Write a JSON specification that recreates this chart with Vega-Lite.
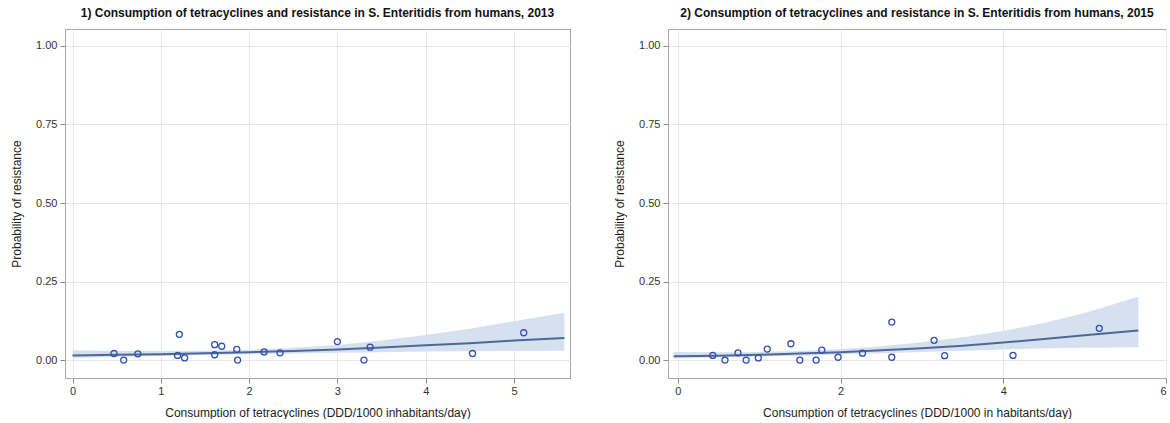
{
  "$schema": "https://vega.github.io/schema/vega-lite/v6.json",
  "padding": {"left": 10, "top": 6, "right": 0, "bottom": 0},
  "spacing": 98,
  "bounds": "flush",
  "config": {
    "font": "Liberation Sans",
    "view": {"stroke": "#a8a8a8", "strokeWidth": 1},
    "axis": {
      "domain": false,
      "grid": true,
      "gridColor": "#e6e6e6",
      "tickColor": "#8a8a8a",
      "tickSize": 5,
      "labelFontSize": 11,
      "labelColor": "#333333",
      "labelPadding": 3,
      "titleFontSize": 12,
      "titleFontWeight": "normal",
      "titleColor": "#222222"
    },
    "title": {"fontSize": 12, "fontWeight": "bold", "color": "#111111", "anchor": "middle", "offset": 9}
  },
  "datasets": {
    "pts1": [
      {"x": 0.47, "y": 0.021}, {"x": 0.58, "y": 0.0}, {"x": 0.74, "y": 0.02},
      {"x": 1.21, "y": 0.082}, {"x": 1.19, "y": 0.015}, {"x": 1.27, "y": 0.007},
      {"x": 1.61, "y": 0.049}, {"x": 1.69, "y": 0.044}, {"x": 1.61, "y": 0.017},
      {"x": 1.86, "y": 0.034}, {"x": 1.87, "y": 0.0}, {"x": 2.17, "y": 0.026},
      {"x": 2.35, "y": 0.023}, {"x": 3.0, "y": 0.059}, {"x": 3.3, "y": 0.0},
      {"x": 3.37, "y": 0.041}, {"x": 4.53, "y": 0.021}, {"x": 5.11, "y": 0.087}
    ],
    "pts2": [
      {"x": 0.43, "y": 0.015}, {"x": 0.58, "y": 0.0}, {"x": 0.74, "y": 0.023},
      {"x": 0.84, "y": 0.0}, {"x": 0.99, "y": 0.007}, {"x": 1.1, "y": 0.035},
      {"x": 1.39, "y": 0.052}, {"x": 1.5, "y": 0.0}, {"x": 1.7, "y": 0.0},
      {"x": 1.77, "y": 0.032}, {"x": 1.97, "y": 0.009}, {"x": 2.27, "y": 0.022},
      {"x": 2.63, "y": 0.121}, {"x": 2.63, "y": 0.009}, {"x": 3.15, "y": 0.063},
      {"x": 3.28, "y": 0.014}, {"x": 4.12, "y": 0.015}, {"x": 5.18, "y": 0.101}
    ],
    "fit1": [
      {"x": 0.0, "p": 0.015, "lo": 0.007, "hi": 0.031},
      {"x": 0.5, "p": 0.017, "lo": 0.010, "hi": 0.029},
      {"x": 1.0, "p": 0.019, "lo": 0.013, "hi": 0.029},
      {"x": 1.5, "p": 0.022, "lo": 0.016, "hi": 0.030},
      {"x": 2.0, "p": 0.025, "lo": 0.019, "hi": 0.033},
      {"x": 2.5, "p": 0.029, "lo": 0.021, "hi": 0.039},
      {"x": 3.0, "p": 0.034, "lo": 0.023, "hi": 0.048},
      {"x": 3.5, "p": 0.040, "lo": 0.025, "hi": 0.062},
      {"x": 4.0, "p": 0.047, "lo": 0.027, "hi": 0.080},
      {"x": 4.5, "p": 0.054, "lo": 0.028, "hi": 0.100},
      {"x": 5.0, "p": 0.062, "lo": 0.029, "hi": 0.124},
      {"x": 5.57, "p": 0.070, "lo": 0.030, "hi": 0.151}
    ],
    "fit2": [
      {"x": -0.05, "p": 0.012, "lo": 0.005, "hi": 0.026},
      {"x": 0.5, "p": 0.014, "lo": 0.008, "hi": 0.025},
      {"x": 1.0, "p": 0.017, "lo": 0.011, "hi": 0.026},
      {"x": 1.5, "p": 0.021, "lo": 0.014, "hi": 0.029},
      {"x": 2.0, "p": 0.025, "lo": 0.018, "hi": 0.035},
      {"x": 2.5, "p": 0.031, "lo": 0.022, "hi": 0.044},
      {"x": 3.0, "p": 0.038, "lo": 0.026, "hi": 0.057},
      {"x": 3.5, "p": 0.046, "lo": 0.030, "hi": 0.073},
      {"x": 4.0, "p": 0.056, "lo": 0.034, "hi": 0.093},
      {"x": 4.5, "p": 0.067, "lo": 0.037, "hi": 0.118},
      {"x": 5.0, "p": 0.079, "lo": 0.039, "hi": 0.150},
      {"x": 5.66, "p": 0.094, "lo": 0.041, "hi": 0.202}
    ]
  },
  "hconcat": [
    {
      "width": 505,
      "height": 349,
      "title": "1) Consumption of tetracyclines and resistance in S. Enteritidis from humans, 2013",
      "layer": [
        {
          "data": {"name": "fit1"},
          "mark": {"type": "area", "color": "#d6e1f0", "opacity": 1},
          "encoding": {
            "x": {"field": "x", "type": "quantitative", "scale": {"domain": [-0.085, 5.634], "nice": false, "zero": false},
                  "axis": {"values": [0, 1, 2, 3, 4, 5], "format": "d", "labelPadding": 2, "title": "Consumption of tetracyclines (DDD/1000 inhabitants/day)", "titlePadding": 11}},
            "y": {"field": "lo", "type": "quantitative", "scale": {"domain": [-0.057, 1.054], "nice": false, "zero": false},
                  "axis": {"values": [0, 0.25, 0.5, 0.75, 1], "format": ".2f", "title": "Probability of resistance", "titlePadding": 12}},
            "y2": {"field": "hi"}
          }
        },
        {
          "data": {"name": "fit1"},
          "mark": {"type": "line", "color": "#4d6898", "strokeWidth": 2},
          "encoding": {
            "x": {"field": "x", "type": "quantitative"},
            "y": {"field": "p", "type": "quantitative"}
          }
        },
        {
          "data": {"name": "pts1"},
          "mark": {"type": "point", "shape": "circle", "filled": false, "color": "#3150b0", "size": 36, "strokeWidth": 1.3, "opacity": 1},
          "encoding": {
            "x": {"field": "x", "type": "quantitative"},
            "y": {"field": "y", "type": "quantitative"}
          }
        }
      ]
    },
    {
      "width": 498,
      "height": 349,
      "title": "2) Consumption of tetracyclines and resistance in S. Enteritidis from humans, 2015",
      "layer": [
        {
          "data": {"name": "fit2"},
          "mark": {"type": "area", "color": "#d6e1f0", "opacity": 1},
          "encoding": {
            "x": {"field": "x", "type": "quantitative", "scale": {"domain": [-0.12, 6.0], "nice": false, "zero": false},
                  "axis": {"values": [0, 2, 4, 6], "format": "d", "labelPadding": 2, "title": "Consumption of tetracyclines (DDD/1000 in habitants/day)", "titlePadding": 11}},
            "y": {"field": "lo", "type": "quantitative", "scale": {"domain": [-0.057, 1.054], "nice": false, "zero": false},
                  "axis": {"values": [0, 0.25, 0.5, 0.75, 1], "format": ".2f", "title": "Probability of resistance", "titlePadding": 12}},
            "y2": {"field": "hi"}
          }
        },
        {
          "data": {"name": "fit2"},
          "mark": {"type": "line", "color": "#4d6898", "strokeWidth": 2},
          "encoding": {
            "x": {"field": "x", "type": "quantitative"},
            "y": {"field": "p", "type": "quantitative"}
          }
        },
        {
          "data": {"name": "pts2"},
          "mark": {"type": "point", "shape": "circle", "filled": false, "color": "#3150b0", "size": 36, "strokeWidth": 1.3, "opacity": 1},
          "encoding": {
            "x": {"field": "x", "type": "quantitative"},
            "y": {"field": "y", "type": "quantitative"}
          }
        }
      ]
    }
  ]
}
